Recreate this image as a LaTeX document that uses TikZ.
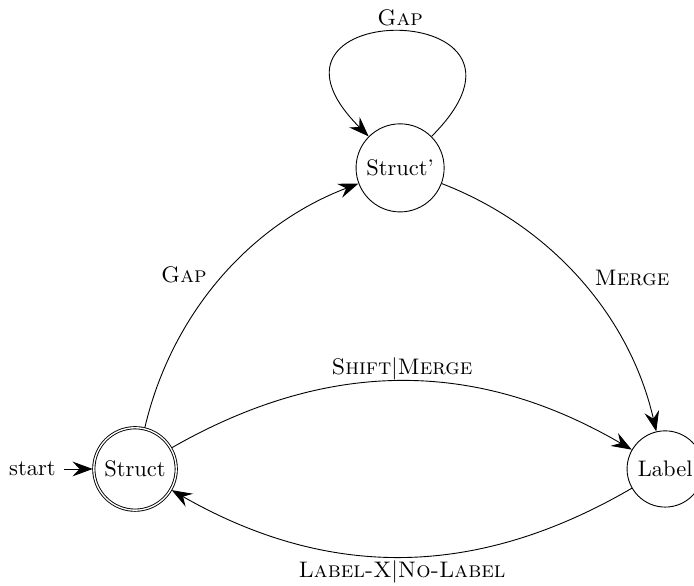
\documentclass[tikz,border=0pt]{standalone}
\usetikzlibrary{automata,arrows.meta}
\begin{document}
\begin{tikzpicture}[
    >={Stealth[length=9pt,width=6.6pt,inset=3.2pt]},
    auto,
    every state/.style={draw, circle, minimum size=0pt, inner sep=3.33pt},
    initial text=start
  ]
  \useasboundingbox (-60pt,-52pt) rectangle (248.4pt,208.4pt);

  \node[state, initial, accepting] (s)  at (0,0)             {Struct};
  \node[state]                     (sp) at (117.8pt,133.8pt) {Struct'};
  \node[state]                     (l)  at (235.6pt,0)       {Label};

  \path[->]
    (s)  edge[bend left=28, looseness=0.92] node[pos=0.45, xshift=2pt] {\textsc{Gap}} (sp)
    (sp) edge[loop, out=45, in=135, min distance=88pt] node[above, yshift=-1pt] {\textsc{Gap}} (sp)
    (sp) edge[bend left=28, looseness=0.92] node[pos=0.55, xshift=-2pt] {\textsc{Merge}} (l)
    (s)  edge[bend left] node[yshift=-3pt] {\textsc{Shift}$|$\textsc{Merge}} (l)
    (l)  edge[bend left] node[yshift=2pt] {\textsc{Label-X}$|$\textsc{No-Label}} (s);
\end{tikzpicture}
\end{document}
